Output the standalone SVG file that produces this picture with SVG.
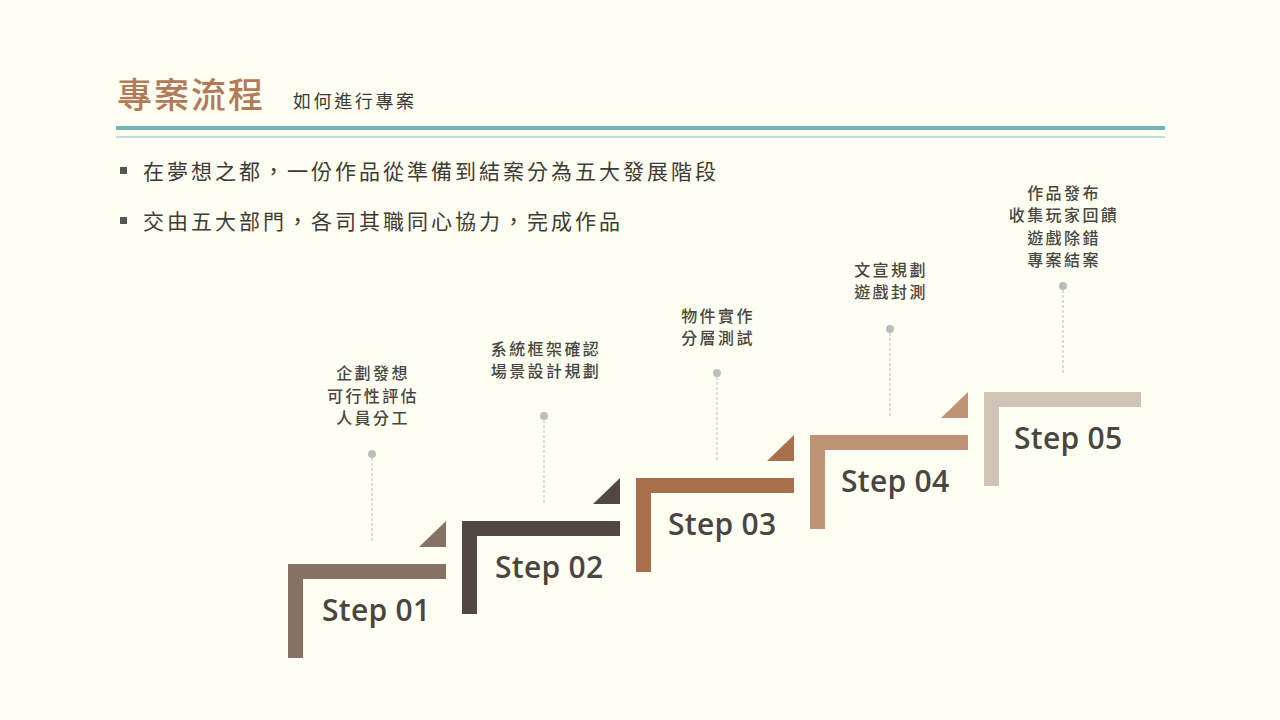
<svg xmlns="http://www.w3.org/2000/svg" width="1280" height="720" viewBox="0 0 1280 720" xml:lang="zh-TW">
  <style>
    .cjk { font-family: "Noto Sans CJK TC", "Noto Sans CJK SC", sans-serif; }
    .title { font-size: 35px; fill: #B27B58; letter-spacing: 2px; font-weight: 500; }
    .subtitle { font-size: 18px; fill: #3E3A36; letter-spacing: 2.6px; }
    .bullet-text { font-size: 21px; fill: #3E3A36; letter-spacing: 3px; }
    .label { font-size: 16px; fill: #4A4642; letter-spacing: 2.4px; text-anchor: middle; font-weight: 500; }
    .step-text { font-family: "Open Sans", "Noto Sans", sans-serif; font-size: 30px; font-weight: 600; fill: #4A4540; letter-spacing: 0.3px; }
    .dot { fill: #BDBDBD; }
    .stem { stroke: #BDBDBD; stroke-width: 1; stroke-dasharray: 3 2; fill: none; }
  </style>

  <!-- page background -->
  <rect x="0" y="0" width="1280" height="720" fill="#FEFEF2"/>

  <!-- heading -->
  <g id="heading">
    <text class="cjk title" x="117" y="108">專案流程</text>
    <text class="cjk subtitle" x="293" y="108">如何進行專案</text>
    <rect x="116" y="126" width="1049" height="4" fill="#6FB8BA"/>
    <rect x="116" y="136.5" width="1049" height="1" fill="#7BBFC4"/>
  </g>

  <!-- bullet points -->
  <g id="bullets">
    <rect x="120" y="167" width="7" height="7" fill="#555"/>
    <text class="cjk bullet-text" x="143" y="179">在夢想之都，一份作品從準備到結案分為五大發展階段</text>
    <rect x="120" y="217" width="7" height="7" fill="#555"/>
    <text class="cjk bullet-text" x="143" y="229">交由五大部門，各司其職同心協力，完成作品</text>
  </g>

  <!-- dotted stems from each label down toward its step -->
  <g id="connectors">
    <line class="stem" x1="372" y1="458" x2="372" y2="543"/>
    <circle class="dot" cx="372" cy="454" r="4"/>
    <line class="stem" x1="544" y1="420" x2="544" y2="505"/>
    <circle class="dot" cx="544" cy="416" r="4"/>
    <line class="stem" x1="717" y1="377" x2="717" y2="462"/>
    <circle class="dot" cx="717" cy="373" r="4"/>
    <line class="stem" x1="890" y1="333" x2="890" y2="418"/>
    <circle class="dot" cx="890" cy="329" r="4"/>
    <line class="stem" x1="1063" y1="290" x2="1063" y2="374"/>
    <circle class="dot" cx="1063" cy="286" r="4"/>
  </g>

  <!-- Step 01 -->
  <g id="step1">
    <path d="M288 564 H446 V579 H303 V658 H288 Z" fill="#857264"/>
    <polygon points="419,547 446,547 446,521" fill="#857264"/>
    <text class="step-text" x="322" y="621">Step 01</text>
    <text class="cjk label" x="372"><tspan x="373" y="379">企劃發想</tspan><tspan x="373" y="402">可行性評估</tspan><tspan x="373" y="424">人員分工</tspan></text>
  </g>

  <!-- Step 02 -->
  <g id="step2">
    <path d="M462 521 H620 V536 H477 V614 H462 Z" fill="#524842"/>
    <polygon points="593,504 620,504 620,478" fill="#524842"/>
    <text class="step-text" x="495" y="578">Step 02</text>
    <text class="cjk label" x="544"><tspan x="546" y="355">系統框架確認</tspan><tspan x="546" y="377">場景設計規劃</tspan></text>
  </g>

  <!-- Step 03 -->
  <g id="step3">
    <path d="M636 478 H794 V493 H651 V572 H636 Z" fill="#A7704A"/>
    <polygon points="767,461 794,461 794,435" fill="#A7704A"/>
    <text class="step-text" x="668" y="535">Step 03</text>
    <text class="cjk label" x="717"><tspan x="718" y="322">物件實作</tspan><tspan x="718" y="344">分層測試</tspan></text>
  </g>

  <!-- Step 04 -->
  <g id="step4">
    <path d="M810 435 H968 V450 H825 V529 H810 Z" fill="#C09376"/>
    <polygon points="941,418 968,418 968,392" fill="#C09376"/>
    <text class="step-text" x="841" y="492">Step 04</text>
    <text class="cjk label" x="890"><tspan x="891" y="276">文宣規劃</tspan><tspan x="891" y="298">遊戲封測</tspan></text>
  </g>

  <!-- Step 05 -->
  <g id="step5">
    <path d="M984 392 H1141 V407 H999 V486 H984 Z" fill="#CFC4B5"/>
    <text class="step-text" x="1014" y="449">Step 05</text>
    <text class="cjk label" x="1063"><tspan x="1064" y="199">作品發布</tspan><tspan x="1064" y="221">收集玩家回饋</tspan><tspan x="1064" y="244">遊戲除錯</tspan><tspan x="1064" y="266">專案結案</tspan></text>
  </g>
</svg>
